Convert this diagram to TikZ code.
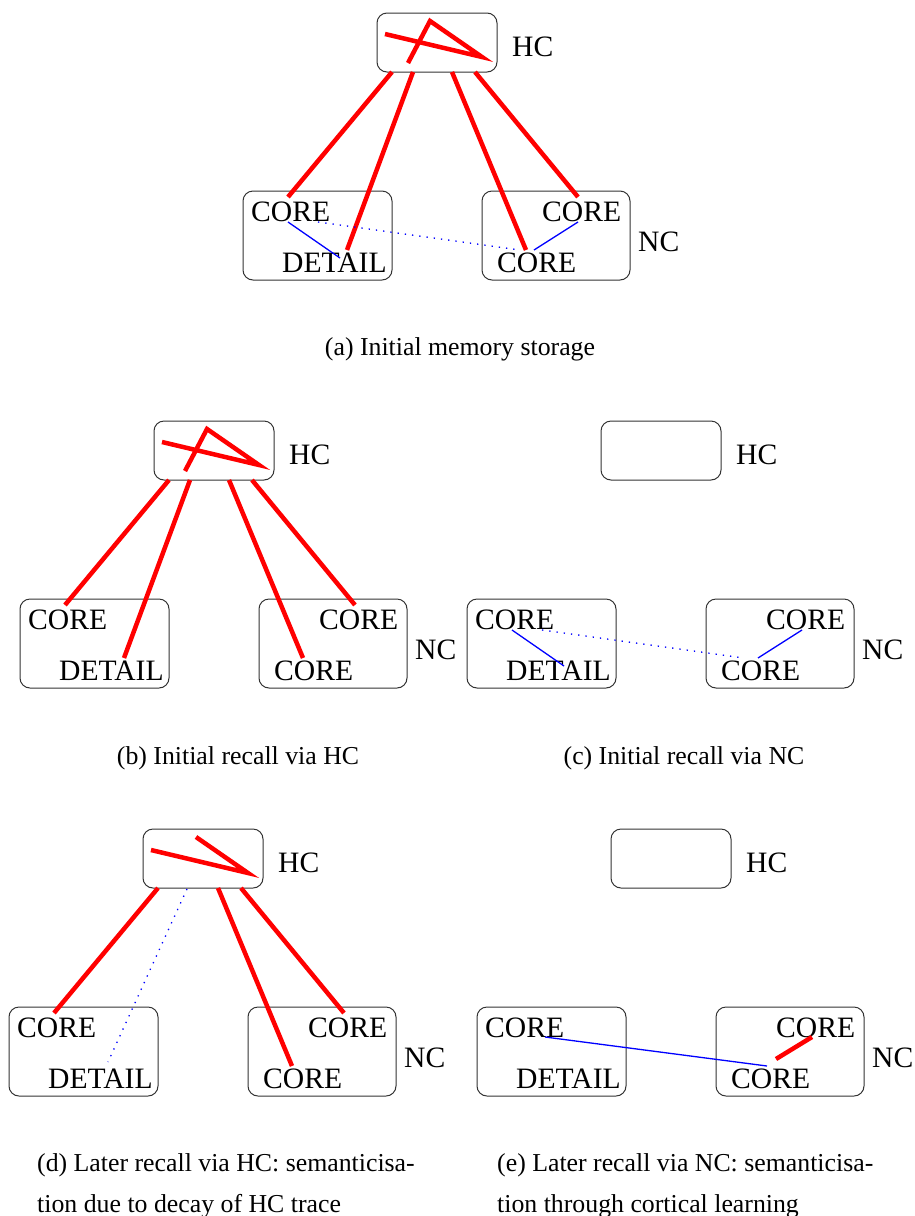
\documentclass[tikz,border=0pt]{standalone}
\usepackage{fontspec}
\setmainfont{Liberation Serif}
\tikzset{
  box/.style={draw=black!80, line width=1pt, rounded corners=10pt, inner sep=0pt},
  lbl/.style={inner sep=0pt, anchor=base west, font=\fontsize{29.6}{34}\selectfont},
  captext/.style={inner sep=0pt, font=\fontsize{25.8}{42}\selectfont},
  trace/.style={red, line width=4.5pt},
  link/.style={blue, line width=1.3pt},
  weak/.style={blue, line width=1.3pt, dash pattern=on 1.3pt off 6pt},
}
\newcommand\panelbase{%
  \node[box, minimum width=120pt, minimum height=59pt] (hc) at (437,42.5) {};
  \node[lbl] (hclab) at (512,56) {HC};
  \node[box, minimum width=149pt, minimum height=89pt] (lbox) at (317.5,235.5) {};
  \node[box, minimum width=148pt, minimum height=89pt] (rbox) at (556,235.5) {};
  \node[lbl] (nclab) at (638,251) {NC};
  \node[lbl] (core1) at (251,221) {CORE};
  \node[lbl] (detail) at (282,272) {DETAIL};
  \node[lbl] (core2) at (542,221) {CORE};
  \node[lbl] (core3) at (497,272) {CORE};
  % trace inside HC
  \coordinate (h1) at (385,34);
  \coordinate (h2) at (482,57);
  \coordinate (h3) at (430,21);
  \coordinate (h4) at (408,63);
  % connector starts on HC box
  \coordinate (t1) at (392,72);
  \coordinate (t2) at (413,72);
  \coordinate (t3) at (452,72);
  \coordinate (t4) at (475,72);
  \coordinate (td) at (421,73);
  % connector ends in NC
  \coordinate (e1) at (288,197);
  \coordinate (e2) at (347,250);
  \coordinate (e3) at (526,250);
  \coordinate (e4) at (578,197);
  \coordinate (ed) at (342,246);
  % cortical link points
  \coordinate (c1s) at (288,222);
  \coordinate (d1) at (340,258);
  \coordinate (c2s) at (578,222);
  \coordinate (c3n) at (534,250);
  \coordinate (c1r) at (318,222);
  \coordinate (c3l) at (520,250);
  \coordinate (c1e) at (311,221);
  \coordinate (c3e) at (533,250);
  \coordinate (r1) at (542,243);
  \coordinate (r2) at (578,221);
}
\begin{document}
\begin{tikzpicture}[x=1pt, y=-1pt]
  \useasboundingbox (0,0) rectangle (915,1216);

  % (a)
  \begin{scope}[name prefix=a-]
    \panelbase
    \draw[trace] (h1) -- (h2) -- (h3) -- (h4);
    \draw[trace] (t1) -- (e1);
    \draw[trace] (t2) -- (e2);
    \draw[trace] (t3) -- (e3);
    \draw[trace] (t4) -- (e4);
    \draw[link] (c1s) -- (d1);
    \draw[link] (c2s) -- (c3n);
    \draw[weak] (c1r) -- (c3l);
  \end{scope}
  \node[captext, anchor=base] (capa) at (460,355) {(a) Initial memory storage};

  % (b)
  \begin{scope}[shift={(-223,408)}, name prefix=b-]
    \panelbase
    \draw[trace] (h1) -- (h2) -- (h3) -- (h4);
    \draw[trace] (t1) -- (e1);
    \draw[trace] (t2) -- (e2);
    \draw[trace] (t3) -- (e3);
    \draw[trace] (t4) -- (e4);
  \end{scope}
  \node[captext, anchor=base] (capb) at (238,764) {(b) Initial recall via HC};

  % (c)
  \begin{scope}[shift={(224,408)}, name prefix=c-]
    \panelbase
    \draw[link] (c1s) -- (d1);
    \draw[link] (c2s) -- (c3n);
    \draw[weak] (c1r) -- (c3l);
  \end{scope}
  \node[captext, anchor=base] (capc) at (684,764) {(c) Initial recall via NC};

  % (d)
  \begin{scope}[shift={(-234,816)}, name prefix=d-]
    \panelbase
    \draw[trace] (h1) -- (h2) -- (h3);
    \draw[trace] (t1) -- (e1);
    \draw[trace] (t3) -- (e3);
    \draw[trace] (t4) -- (e4);
    \draw[weak] (td) -- (ed);
  \end{scope}
  \node[captext, anchor=base west] (capd1) at (37,1171) {(d) Later recall via HC: semanticisa-};
  \node[captext, anchor=base west] (capd2) at (37,1212) {tion due to decay of HC trace};

  % (e)
  \begin{scope}[shift={(234,816)}, name prefix=e-]
    \panelbase
    \draw[link] (c1e) -- (c3e);
    \draw[trace] (r1) -- (r2);
  \end{scope}
  \node[captext, anchor=base west] (cape1) at (497,1171) {(e) Later recall via NC: semanticisa-};
  \node[captext, anchor=base west] (cape2) at (497,1212) {tion through cortical learning};
\end{tikzpicture}
\end{document}
